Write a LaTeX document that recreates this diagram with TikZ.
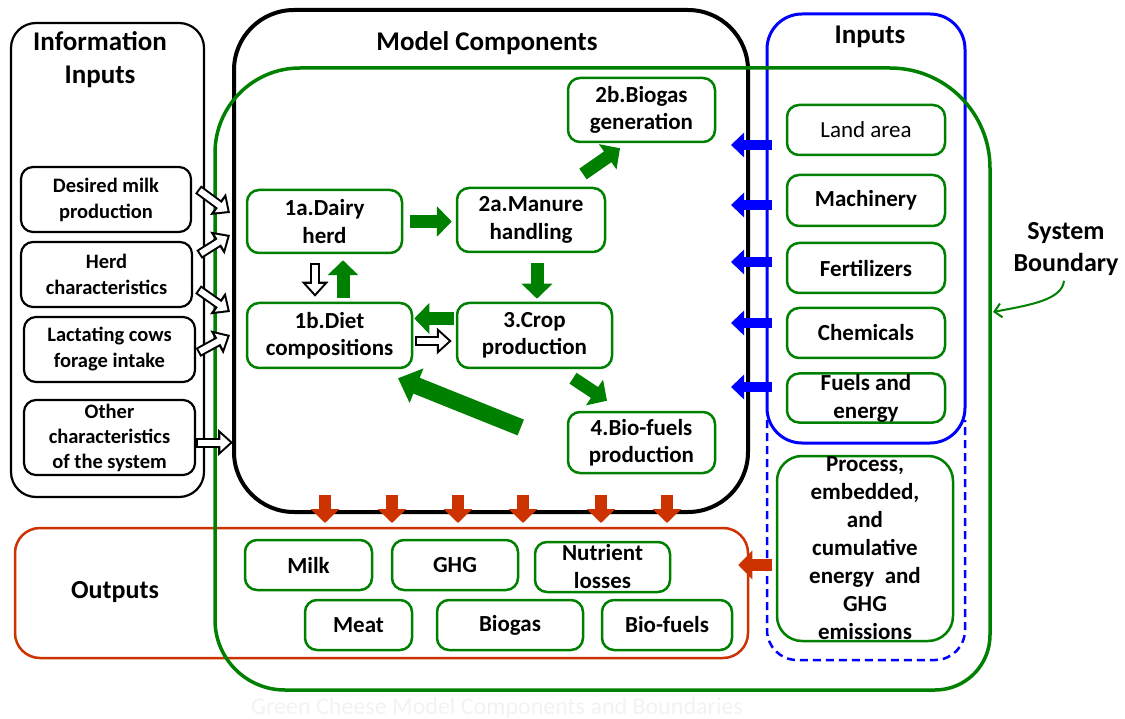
\documentclass[tikz,border=0pt]{standalone}
\usepackage{fontspec}
\setmainfont{Carlito}
\usetikzlibrary{arrows.meta}
\definecolor{gcol}{RGB}{0,128,0}
\definecolor{bcol}{RGB}{0,0,255}
\definecolor{rcol}{RGB}{204,51,0}
\newcommand{\hollowarr}[2]{%
  \draw[line width=10pt, -{Triangle[length=15pt,width=26pt]}] #1 -- #2;
  \draw[white, line width=6pt, shorten <=2pt, shorten >=3.1pt, -{Triangle[length=9.5pt,width=16.5pt]}] #1 -- #2;}
\begin{document}
\begin{tikzpicture}[x=1pt,y=-1pt,
  titletext/.style={font=\fontsize{27}{33}\selectfont\bfseries, align=center, inner sep=0},
  infotext/.style={font=\fontsize{20.5}{26}\selectfont\bfseries, align=center},
  ctext/.style={font=\fontsize{23}{27.5}\selectfont\bfseries, align=center},
  infobox/.style={draw, line width=2.2pt, rounded corners=12pt, inner sep=0, infotext},
  compbox/.style={draw=gcol, line width=2.5pt, rounded corners=12pt, fill=white, inner sep=0, ctext},
  garr/.style={draw=gcol, line width=13pt, -{Triangle[length=15pt,width=30pt]}},
  barr/.style={draw=bcol, line width=10pt, -{Triangle[length=13pt,width=24pt]}},
  rarr/.style={draw=rcol, line width=12pt, -{Triangle[length=14pt,width=28pt]}}]
\useasboundingbox (0,0) rectangle (1125,719);

% ---------- Information inputs ----------
\node[draw, line width=2.2pt, rounded corners=25pt, minimum width=193pt, minimum height=474pt] (info) at (107.5,260) {};
\node[titletext] (infot) at (100,60) {Information\\Inputs};
\node[infobox, minimum width=170pt, minimum height=65pt] (dm) at (106,199.5) {Desired milk\\production};
\node[infobox, minimum width=171pt, minimum height=65pt] (hc) at (106.5,274.5) {Herd\\characteristics};
\node[infobox, minimum width=171pt, minimum height=65pt] (lc) at (109.5,349.5) {Lactating cows\\forage intake};
\node[infobox, minimum width=171pt, minimum height=75pt, font=\fontsize{20.5}{25}\selectfont\bfseries] (oc) at (109.5,437.5) {Other\\characteristics\\of the system};

% ---------- Inputs (blue) ----------
\draw[bcol, dash pattern=on 8pt off 5pt, line width=2.5pt] (767,420) [rounded corners=30pt] -- (767,660) -- (965,660) [sharp corners] -- (965,420);
\node[draw=bcol, line width=3pt, rounded corners=35pt, minimum width=198pt, minimum height=429pt] (inp) at (866,228.5) {};
\node[titletext] (inpt) at (870,37) {Inputs};

% ---------- Outputs (red) ----------
\node[draw=rcol, line width=2.5pt, rounded corners=25pt, minimum width=733pt, minimum height=130pt] (out) at (381.5,593) {};
\node[titletext, font=\fontsize{26}{30}\selectfont\bfseries] (outt) at (115,592) {Outputs};

% ---------- Model components (black) ----------
\node[draw, line width=4pt, rounded corners=60pt, minimum width=514pt, minimum height=502pt] (mc) at (491,261) {};
\node[titletext] (mct) at (487,43) {Model Components};

% ---------- System boundary (green) ----------
\draw[gcol, line width=3.5pt] (215,400) [rounded corners=85pt] -- (215,68) [rounded corners=100pt] -- (990,68) [rounded corners=55pt] -- (990,690) [rounded corners=70pt] -- (215,690) [sharp corners] -- cycle;
\node[titletext, font=\fontsize{26}{32}\selectfont\bfseries] (sbt) at (1066,249) {System\\Boundary};
\coordinate (sbpt) at (993,312);
\draw[gcol, line width=2pt, -{Straight Barb[length=7pt,width=14pt]}] ([shift={(-2,5)}]sbt.south) .. controls (1062,300) and (1030,305) .. (sbpt);

% ---------- input items ----------
\node[compbox, minimum width=158pt, minimum height=50pt, font=\fontsize{23}{27}\selectfont] (la) at (866,130) {Land area};
\node[compbox, minimum width=158pt, minimum height=51pt] (ma) at (866,200.5) {Machinery};
\node[compbox, minimum width=158pt, minimum height=50pt] (fe) at (866,268) {Fertilizers};
\node[compbox, minimum width=158pt, minimum height=50pt] (ch) at (866,333) {Chemicals};
\node[compbox, minimum width=158pt, minimum height=49pt, font=\fontsize{23}{28}\selectfont\bfseries] (fu) at (866,398) {Fuels and\\energy};
\node[compbox, minimum width=176pt, minimum height=185pt, rounded corners=25pt, font=\fontsize{23}{28}\selectfont\bfseries] (pe) at (865,548.5) {Process,\\embedded,\\and\\cumulative\\energy~ and\\GHG\\emissions};

% ---------- model components ----------
\node[compbox, minimum width=155pt, minimum height=63pt] (a1) at (324.5,221.5) {1a.Dairy\\herd};
\node[compbox, minimum width=148pt, minimum height=64pt] (a2) at (531,220) {2a.Manure\\handling};
\node[compbox, minimum width=147pt, minimum height=64pt] (b2) at (641.5,110) {2b.Biogas\\generation};
\node[compbox, minimum width=165pt, minimum height=65pt] (b1) at (329.5,335.5) {1b.Diet\\compositions};
\node[compbox, minimum width=155pt, minimum height=65pt] (c3) at (534.5,335.5) {3.Crop\\production};
\node[compbox, minimum width=147pt, minimum height=61pt] (d4) at (641.5,442.5) {4.Bio-fuels\\production};

% ---------- outputs items ----------
\node[compbox, minimum width=127pt, minimum height=50pt] (mk) at (308.5,565) {Milk};
\node[compbox, minimum width=126pt, minimum height=50pt] (gh) at (455,565) {GHG};
\node[compbox, minimum width=135pt, minimum height=50pt, font=\fontsize{23}{28}\selectfont\bfseries] (nl) at (602.5,567) {Nutrient\\losses};
\node[compbox, minimum width=107pt, minimum height=50pt] (me) at (358.5,625) {Meat};
\node[compbox, minimum width=146pt, minimum height=50pt] (bg) at (510,625) {Biogas};
\node[compbox, minimum width=130pt, minimum height=50pt] (bf) at (667,625) {Bio-fuels};

% ---------- information arrows ----------
\coordinate (ih1) at (230,213);
\coordinate (ih2) at (230,235);
\coordinate (ih3) at (230,312);
\coordinate (ih4) at (230,335);
\coordinate (ih5) at (233,442.5);
\hollowarr{([shift={(6,-10)}]dm.east)}{(ih1)}
\hollowarr{([shift={(6,-20)}]hc.east)}{(ih2)}
\hollowarr{([shift={(5,15)}]hc.east)}{(ih3)}
\hollowarr{([shift={(2,3)}]lc.east)}{(ih4)}
\hollowarr{([shift={(0,5)}]oc.east)}{(ih5)}

% ---------- component arrows ----------
\draw[garr] ([xshift=7pt]a1.east) -- ([xshift=-4pt]a2.west |- a1.east);
\draw[garr] ([shift={(52,-46)}]a2.center) -- ([shift={(-21.5,5)}]b2.south);
\draw[garr] ([shift={(6,10)}]a2.south) -- ([shift={(6,-3)}]a2.south |- c3.north);
\draw[garr] ([shift={(-2,-17)}]c3.west) -- ([shift={(1,-17)}]b1.east);
\draw[garr] ([shift={(13.5,-4)}]b1.north) -- ([shift={(18.5,6)}]a1.south);
\draw[garr] ([shift={(38.5,9)}]c3.south) -- ([shift={(-34.5,-10)}]d4.north);
\draw[draw=gcol, line width=17pt, -{Triangle[length=20pt,width=36pt]}] ([shift={(-46,-15)}]d4.west) -- ([shift={(68.5,9)}]b1.south);
\hollowarr{([shift={(-9.5,9)}]a1.south)}{([shift={(-14.5,-5)}]b1.north)}
\hollowarr{([shift={(2,5.5)}]b1.east)}{([shift={(-4,5.5)}]c3.west)}

% ---------- blue input arrows ----------
\foreach \n/\y in {la/145, ma/205, fe/262, ch/323, fu/387}{
  \draw[barr] (772,\y) -- (731,\y);
}

% ---------- red output arrows ----------
\foreach \x in {325,392,458,523,601,667}{
  \draw[rarr] (\x,495) -- ([yshift=5pt]\x,528);
}
\draw[rarr] ([xshift=-4pt]pe.west |- 0,565) -- ([xshift=-11pt]out.east |- 0,565);

% ---------- caption ----------
\node[font=\fontsize{24}{28}\selectfont, text=black!5] (cap) at (497,708) {Green Cheese Model Components and Boundaries};
\end{tikzpicture}
\end{document}
